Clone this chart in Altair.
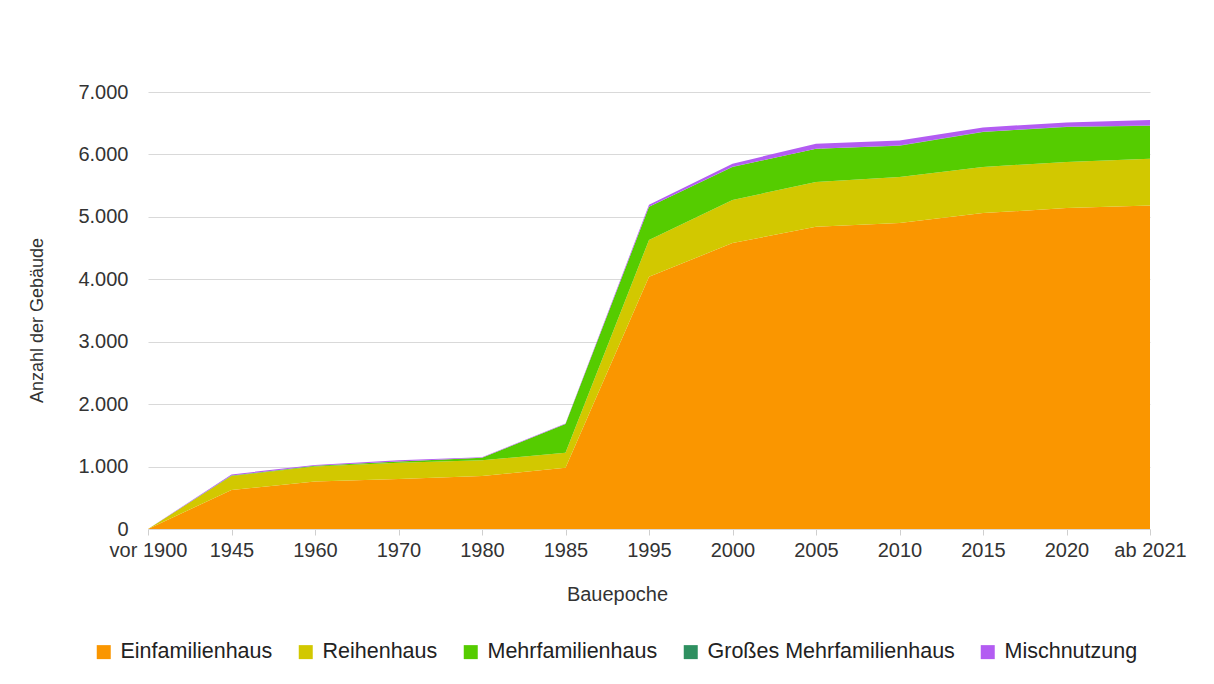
import altair as alt
import pandas as pd

epochs = ["vor 1900", "1945", "1960", "1970", "1980", "1985", "1995",
          "2000", "2005", "2010", "2015", "2020", "ab 2021"]
series = ["Einfamilienhaus", "Reihenhaus", "Mehrfamilienhaus",
          "Großes Mehrfamilienhaus", "Mischnutzung"]
einfamilienhaus = [0, 625, 760, 800, 850, 980, 4040, 4580, 4840, 4900, 5060, 5140, 5180]
reihenhaus = [0, 225, 240, 260, 250, 240, 590, 690, 720, 740, 740, 740, 750]
mehrfamilienhaus = [0, 5, 15, 20, 40, 460, 530, 530, 530, 500, 560, 560, 530]
grosses_mfh = [0, 0, 0, 0, 0, 0, 2, 2, 2, 2, 2, 2, 2]
mischnutzung = [0, 20, 10, 20, 10, 10, 30, 50, 80, 80, 70, 70, 90]
colors = ["#FA9600", "#D2C800", "#55CC00", "#2E9060", "#B35CF2"]

values = [einfamilienhaus, reihenhaus, mehrfamilienhaus, grosses_mfh, mischnutzung]
rows = []
for si, (name, vals) in enumerate(zip(series, values)):
    for ei, (ep, v) in enumerate(zip(epochs, vals)):
        rows.append({"Bauepoche": ep, "Typ": name, "Anzahl": v, "idx": si})
df = pd.DataFrame(rows)

FONT = "Liberation Sans"

chart = alt.Chart(df).mark_area(interpolate="linear").encode(
    x=alt.X("Bauepoche:N", sort=epochs,
            scale=alt.Scale(type="point", padding=0),
            axis=alt.Axis(title="Bauepoche", labelAngle=0, labelFontSize=20,
                          labelColor="#333333", labelPadding=5, tickSize=6,
                          tickColor="#CFCFCF", domainColor="#D9D9D9",
                          titleFontSize=20, titleFontWeight="normal",
                          titleColor="#333333", titleX=469, titleY=65,
                          titleBaseline="middle", titleAlign="center",
                          grid=False)),
    y=alt.Y("Anzahl:Q", stack="zero",
            scale=alt.Scale(domain=[0, 7000], nice=False),
            axis=alt.Axis(title="Anzahl der Gebäude", values=[0, 1000, 2000, 3000, 4000, 5000, 6000, 7000],
                          labelExpr="replace(format(datum.value, ','), ',', '.')",
                          labelFontSize=20, labelColor="#333333", labelPadding=20,
                          ticks=False, domain=False, gridColor="#D9D9D9",
                          titleFontSize=18, titleFontWeight="normal",
                          titleColor="#333333", titleAngle=270,
                          titleX=-111, titleY=228, titleAlign="center",
                          titleBaseline="middle")),
    color=alt.Color("Typ:N", sort=series,
                    scale=alt.Scale(domain=series, range=colors),
                    legend=alt.Legend(title=None, orient="none", direction="horizontal",
                                      legendX=-55, legendY=549, symbolType="square",
                                      symbolSize=196, symbolStrokeWidth=0,
                                      labelFontSize=21.5, labelColor="#222222",
                                      labelFont=FONT, columnPadding=22,
                                      labelOffset=6, labelLimit=0)),
    order=alt.Order("idx:Q", sort="ascending"),
).properties(
    width=1002, height=437,
    autosize=alt.AutoSizeParams(type="none"),
    padding={"left": 140, "top": 84, "right": 50, "bottom": 140},
).configure(
    font=FONT,
).configure_view(stroke=None)

chart.save("out.html", embed_options={"renderer": "svg", "actions": False})
